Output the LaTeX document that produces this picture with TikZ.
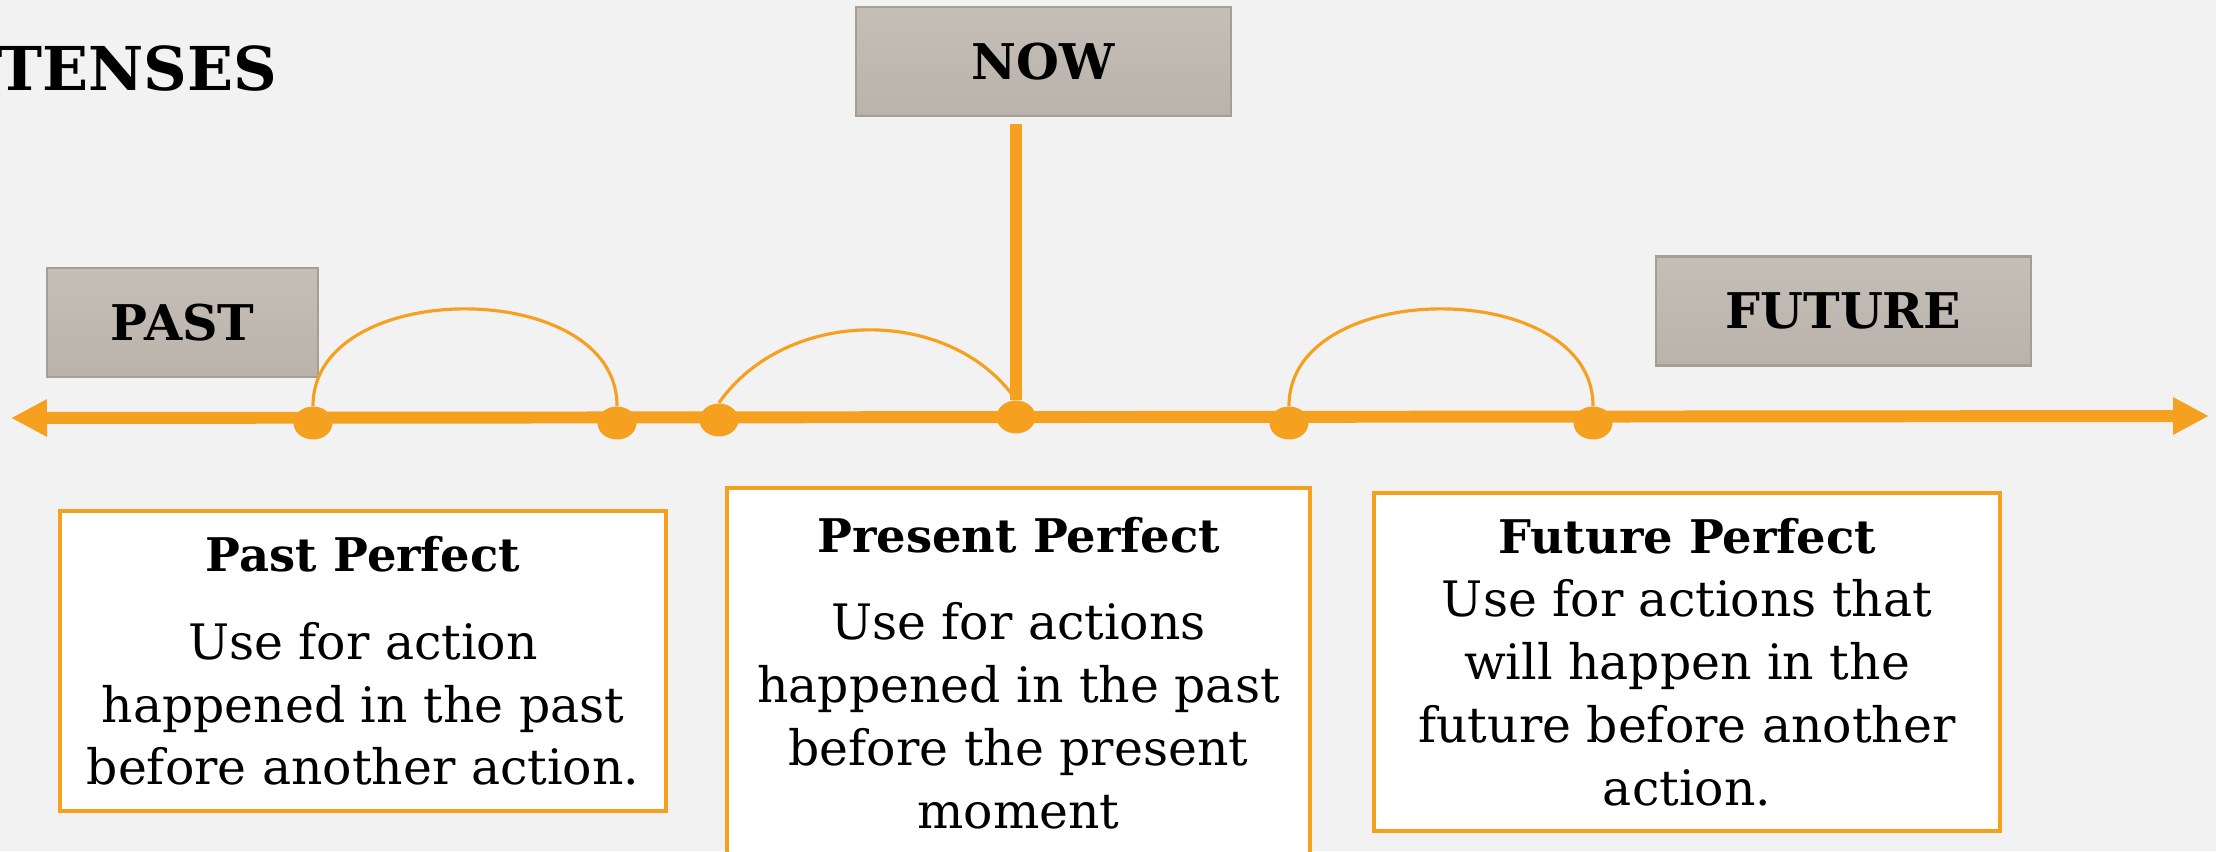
\documentclass[tikz,border=0pt]{standalone}
\usepackage{fontspec}
\setmainfont{DejaVu Serif}
\usepackage{xcolor}
\usepackage{tikz}
\usetikzlibrary{
    positioning,
    arrows.meta,
    shapes.geometric
}
\definecolor{tlorange}{HTML}{F5A01E}
\definecolor{boxgray}{HTML}{BAB3AB}
\definecolor{boxedge}{HTML}{A59E95}
\definecolor{slidebg}{HTML}{F2F2F2}
\tikzset{
    timebox/.style={
        rectangle, draw=boxedge, line width=0.6pt,
        top color=boxgray!85!white, bottom color=boxgray,
        minimum height=1.09cm, inner sep=0pt,
        font=\fontsize{14pt}{16pt}\selectfont\bfseries
    },
    tensebox/.style={
        rectangle, draw=tlorange, line width=1pt, fill=white,
        align=center, inner sep=0pt,
        font=\fontsize{13.9pt}{17.9pt}\selectfont
    },
    tickdot/.style={
        ellipse, fill=tlorange, minimum width=0.39cm,
        minimum height=0.33cm, inner sep=0pt
    },
    timeline/.style={
        line width=3.4pt, draw=tlorange
    },
    arcline/.style={
        line width=0.9pt, draw=tlorange
    }
}
\newcommand{\tensehead}[1]{{\fontsize{13.2pt}{17.9pt}\selectfont\bfseries #1}}

\begin{document}
\begin{tikzpicture}[
    axisarrow/.style={timeline, {Triangle[length=3.6mm,width=3.5mm]}-{Triangle[length=3.6mm,width=3.5mm]}}
  ]
    \fill[slidebg] (0,0) rectangle (22.16,8.51);
    \useasboundingbox (0,0) rectangle (22.16,8.51);

    \node[anchor=base west, inner sep=0pt, font=\fontsize{17.2pt}{19pt}\selectfont\bfseries] (title) at (-0.03,7.6) {TENSES};

    % labels over the axis
    \node[timebox, minimum width=2.71cm] (past) at (1.825,5.285) {PAST};
    \node[timebox, minimum width=3.75cm] (now) at (10.435,7.895) {NOW};
    \node[timebox, minimum width=3.75cm] (future) at (18.435,5.40) {FUTURE};

    % time axis
    \coordinate (axisleft) at (0.11,4.33);
    \coordinate (axisright) at (22.09,4.35);
    \draw[axisarrow] (axisleft) -- (axisright);

    \node[tickdot] (d1) at (3.13,4.28) {};
    \node[tickdot] (d2) at (6.17,4.28) {};
    \node[tickdot] (d3) at (7.19,4.31) {};
    \node[tickdot] (d4) at (10.16,4.34) {};
    \node[tickdot] (d5) at (12.89,4.28) {};
    \node[tickdot] (d6) at (15.93,4.28) {};

    % now marker
    \coordinate (nowfoot) at (10.16,7.27);
    \draw[timeline] (nowfoot) -- (d4);

    % spans
    \draw[arcline] (d1.north) to[out=90, in=90, looseness=1.09] (d2.north);
    \draw[arcline] (d3.north) to[out=55, in=125] (d4.north);
    \draw[arcline] (d5.north) to[out=90, in=90, looseness=1.09] (d6.north);

    % tense boxes
    \node[tensebox, minimum width=6.06cm, minimum height=3.00cm] (pastperf) at (3.63,1.90)
        {\tensehead{Past Perfect}\\[7pt] Use for action\\ happened in the past\\ before another action.};
    \node[tensebox, minimum width=5.83cm, minimum height=3.70cm] (presperf) at (10.185,1.78)
        {\tensehead{Present Perfect}\\[7pt] Use for actions\\ happened in the past\\ before the present\\ moment};
    \node[tensebox, minimum width=6.26cm, minimum height=3.38cm] (futperf) at (16.87,1.89)
        {\tensehead{Future Perfect}\\ Use for actions that\\ will happen in the\\ future before another\\ action.};

\end{tikzpicture}
\end{document}
